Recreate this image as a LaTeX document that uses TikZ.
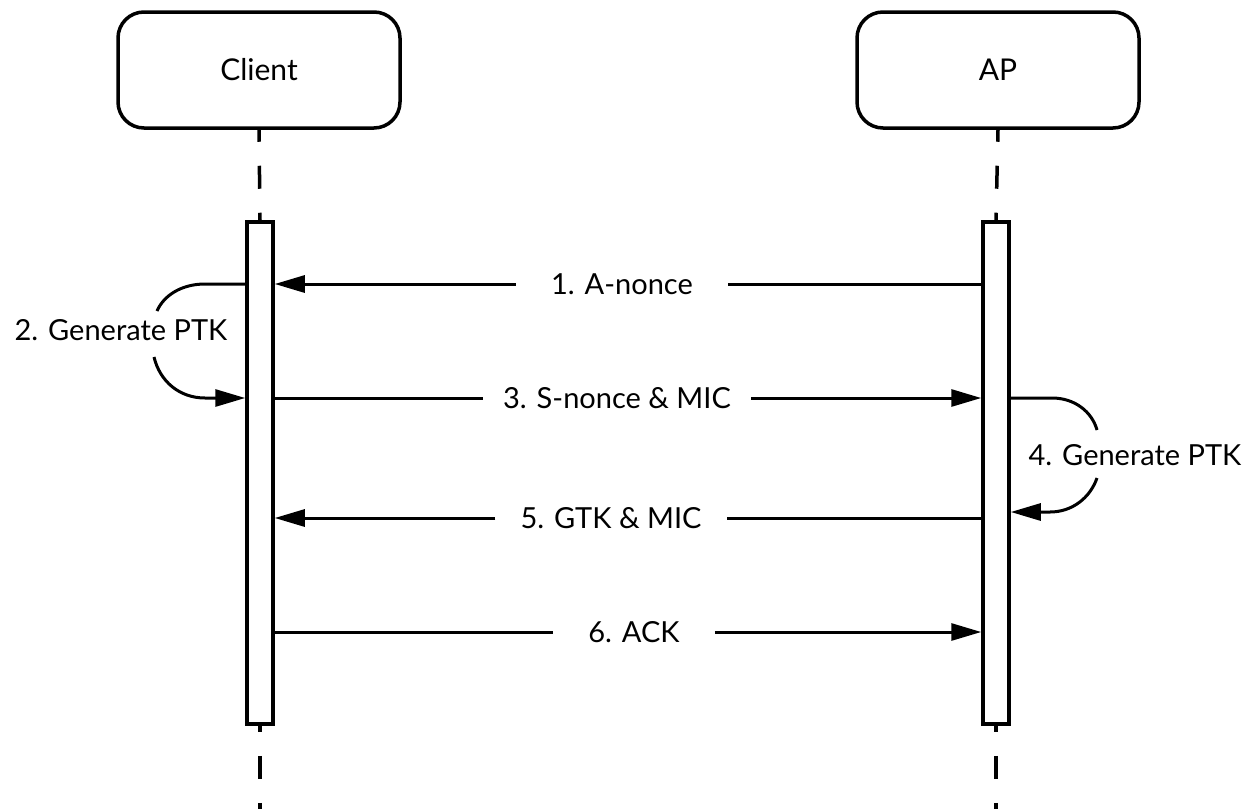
\documentclass[tikz,border=0pt]{standalone}
\usepackage{fontspec}
\setmainfont{Lato}
\usetikzlibrary{arrows.meta,calc}

\begin{document}
\begin{tikzpicture}[x=1pt,y=-1pt,
    actor/.style={draw, line width=3.5pt, rounded corners=26pt, minimum width=282pt, minimum height=116pt, font=\fontsize{30}{34}\selectfont},
    bar/.style={draw, line width=3.5pt, fill=white, minimum width=26pt, minimum height=502pt, inner sep=0pt},
    life/.style={line width=3.5pt, dash pattern=on 23pt off 24pt},
    msg/.style={line width=3pt, -{Triangle[length=30pt,width=17pt]}},
    lbl/.style={font=\fontsize{29}{34}\selectfont, inner sep=0pt}]
    \useasboundingbox (0,0) rectangle (1255,809);

    % Actors
    \node[actor] (client) at (259,70) {Client};
    \node[actor] (ap) at (998,70) {AP};

    % Activation bars
    \node[bar] (cbar) at (260,473) {};
    \node[bar] (abar) at (996,473) {};
    \coordinate (cend) at (260,809);
    \coordinate (aend) at (996,809);

    % Lifelines
    \draw[life, dash phase=11pt] (client.south) -- (cbar.north);
    \draw[life, dash phase=11pt] (ap.south) -- (abar.north);
    \draw[life, dash phase=17pt] (cbar.south) -- (cend);
    \draw[life, dash phase=17pt] (abar.south) -- (aend);

    % Messages
    \node[lbl] (m1) at (622,284) {1. A-nonce};
    \node[lbl] (m3) at (617,398) {3. S-nonce \& MIC};
    \node[lbl] (m5) at (611,518) {5. GTK \& MIC};
    \node[lbl] (m6) at (634,632) {6. ACK};

    \draw[line width=3pt] (abar.west |- m1) -- ([xshift=35pt]m1.east);
    \draw[msg] ([xshift=-35pt]m1.west) -- (cbar.east |- m1);
    \draw[line width=3pt] (cbar.east |- m3) -- ([xshift=-20pt]m3.west);
    \draw[msg] ([xshift=20pt]m3.east) -- (abar.west |- m3);
    \draw[line width=3pt] (abar.west |- m5) -- ([xshift=25pt]m5.east);
    \draw[msg] ([xshift=-25pt]m5.west) -- (cbar.east |- m5);
    \draw[line width=3pt] (cbar.east |- m6) -- ([xshift=-35pt]m6.west);
    \draw[msg] ([xshift=35pt]m6.east) -- (abar.west |- m6);

    % Self calls
    \node[lbl] (g2) at (121,330) {2. Generate PTK};
    \node[lbl] (g4) at (1135,455) {4. Generate PTK};

    \draw[line width=3pt] (cbar.west |- m1) -- (205,284) .. controls (182,284) and (164,295) .. (157,311);
    \draw[msg] (154,357) .. controls (160,382) and (180,398) .. (205,398) -- (cbar.west |- m3);
    \draw[line width=3pt] (abar.east |- m3) -- (1052,398) .. controls (1075,398) and (1092,412) .. (1097,430);
    \draw[msg] (1097,478) .. controls (1090,498) and (1072,512) .. (1050,512) -- (abar.east |- 0,512);
\end{tikzpicture}
\end{document}
